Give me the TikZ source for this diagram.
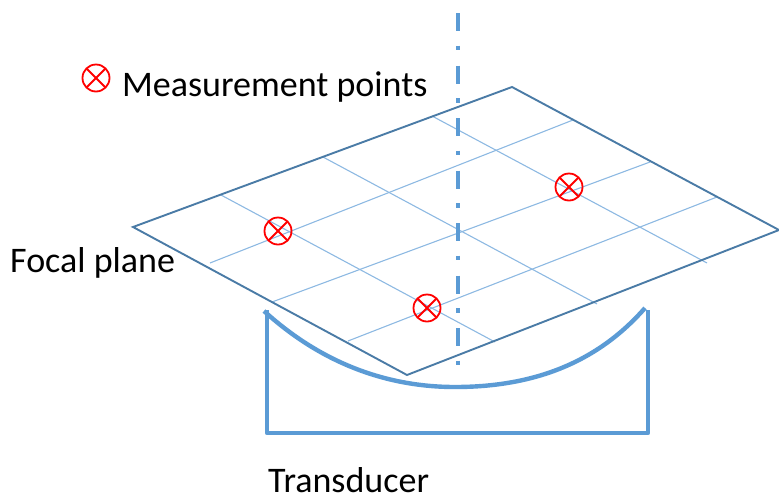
\documentclass[tikz,border=0pt]{standalone}
\usepackage{fontspec}
\setmainfont{Carlito}
\definecolor{edgeblue}{HTML}{4A7BA6}
\definecolor{gridblue}{HTML}{8DB9E2}
\definecolor{axisblue}{HTML}{5B9BD5}
\definecolor{markred}{HTML}{FF0000}
\tikzset{
  planeedge/.style={draw=edgeblue,line width=1.9pt,line join=miter},
  gridline/.style={draw=gridblue,line width=1.1pt},
  thick blue/.style={draw=axisblue,line width=4.4pt},
  axisline/.style={draw=axisblue,line width=4.6pt,dash pattern=on 18pt off 14.5pt on 4.5pt off 15.5pt},
  label/.style={anchor=base west,inner sep=0pt,font=\fontsize{36}{38}\selectfont,text=black},
  measure/.style={circle,draw=markred,line width=1.8pt,minimum size=27pt,inner sep=0pt,path picture={
    \draw[markred,line width=1.8pt] (path picture bounding box.center) ++(-10pt,-10pt) -- ++(20pt,20pt)
      (path picture bounding box.center) ++(-10pt,10pt) -- ++(20pt,-20pt);}},
}
\begin{document}
\begin{tikzpicture}[x=1pt,y=-1pt]
\useasboundingbox (0,0) rectangle (779,496);
% plane corners
\coordinate (L) at (133,227);
\coordinate (T) at (512,87);
\coordinate (R) at (779,230);
\coordinate (B) at (407,375);
% grid ends
\coordinate (a1) at (221,195); \coordinate (a2) at (495,342);
\coordinate (b1) at (323,157); \coordinate (b2) at (597,304);
\coordinate (c1) at (432,116); \coordinate (c2) at (707,263);
\coordinate (d1) at (210,263); \coordinate (d2) at (573,120);
\coordinate (e1) at (272,302); \coordinate (e2) at (650,162);
\coordinate (f1) at (348,341); \coordinate (f2) at (717,197);
\foreach \p/\q in {a1/a2,b1/b2,c1/c2,d1/d2,e1/e2,f1/f2}
  \draw[gridline] (\p) -- (\q);
\draw[planeedge] (L) -- (T) -- (R) -- (B) -- cycle;
% axis
\coordinate (axT) at (458,13);
\coordinate (axB) at (458,366);
\draw[axisline] (axT) -- (axB);
% transducer
\coordinate (tl) at (267,310);
\coordinate (tbl) at (267,433);
\coordinate (tbr) at (648,433);
\coordinate (tr) at (648,310);
\draw[thick blue,line join=round] (tl) -- (tbl) -- (tbr) -- (tr);
\coordinate (cl) at (264,311);
\coordinate (cr) at (645,308);
\draw[thick blue] (cl) .. controls (320,362) and (385,387) .. (455,387)
   .. controls (530,387) and (595,365) .. (cr);
% measurement markers
\node[measure] (m0) at (96,78) {};
\node[measure] (m1) at (278,231) {};
\node[measure] (m2) at (427,308) {};
\node[measure] (m3) at (569,187) {};
% labels
\node[label] (t1) at (122,96) {Measurement points};
\node[label] (t2) at (10,272) {Focal plane};
\node[label] (t3) at (268,492) {Transducer};
\end{tikzpicture}
\end{document}
